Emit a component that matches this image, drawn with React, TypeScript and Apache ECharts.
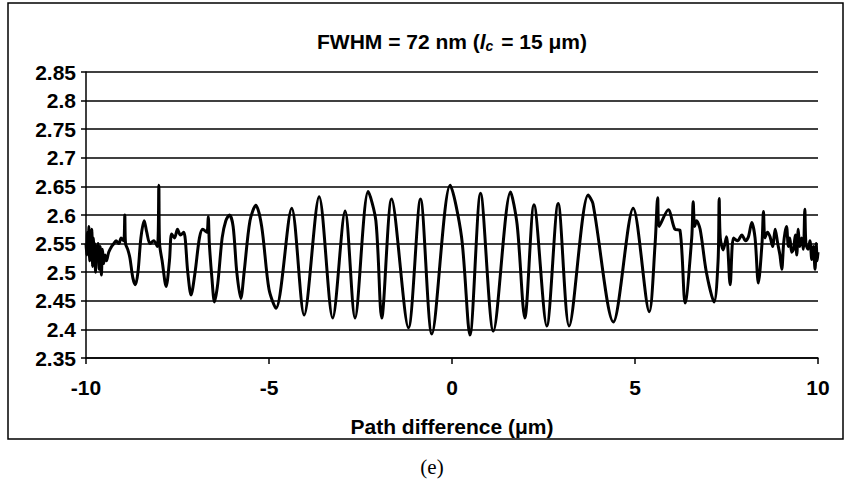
import React, { useEffect, useRef } from "react";
import * as echarts from "echarts";

const xTicks = [-10, -5, 0, 5, 10];
const yMin = 2.35;
const yMax = 2.85;
const yStep = 0.05;
const xAxisTitle = "Path difference (μm)";
const caption = "(e)";

// [path difference (µm), signal]
const leftNoise: [number, number][] = [
  [-10.0, 2.55], [-9.98, 2.53], [-9.96, 2.57], [-9.94, 2.54], [-9.92, 2.58], [-9.9, 2.52],
  [-9.88, 2.56], [-9.86, 2.53], [-9.84, 2.575], [-9.82, 2.51], [-9.8, 2.56], [-9.78, 2.52],
  [-9.76, 2.55], [-9.74, 2.5], [-9.72, 2.545], [-9.7, 2.52], [-9.67, 2.55], [-9.64, 2.505],
  [-9.61, 2.545], [-9.58, 2.495], [-9.55, 2.54], [-9.52, 2.515], [-9.48, 2.53], [-9.44, 2.52],
  [-9.38, 2.535], [-9.3, 2.545], [-9.24, 2.55], [-9.18, 2.555], [-9.1, 2.55], [-9.04, 2.56],
  [-8.97, 2.555], [-8.94, 2.6], [-8.92, 2.55], [-8.86, 2.54], [-8.8, 2.525], [-8.72, 2.49],
  [-8.65, 2.478], [-8.58, 2.5], [-8.5, 2.56], [-8.41, 2.59], [-8.34, 2.57], [-8.25, 2.55],
  [-8.15, 2.555], [-8.05, 2.545], [-8.01, 2.652], [-7.99, 2.55], [-7.92, 2.52], [-7.81, 2.475],
  [-7.72, 2.52], [-7.66, 2.567], [-7.58, 2.56], [-7.5, 2.575], [-7.42, 2.565], [-7.33, 2.57],
  [-7.22, 2.5], [-7.13, 2.46], [-7.02, 2.5], [-6.9, 2.56], [-6.81, 2.575], [-6.7, 2.57],
  [-6.66, 2.597], [-6.63, 2.55], [-6.56, 2.49], [-6.49, 2.448], [-6.4, 2.48], [-6.28, 2.56],
  [-6.18, 2.59], [-6.08, 2.6], [-5.98, 2.58], [-5.88, 2.5], [-5.77, 2.454], [-5.68, 2.5],
  [-5.52, 2.59], [-5.36, 2.617], [-5.2, 2.58], [-5.0, 2.47],
];

const centralFringes: [number, number][] = [
  [-4.81, 2.437], [-4.38, 2.612], [-4.04, 2.425], [-3.63, 2.632], [-3.26, 2.42], [-2.92, 2.607],
  [-2.65, 2.42], [-2.29, 2.641], [-2.08, 2.59], [-1.92, 2.42], [-1.65, 2.628], [-1.19, 2.403],
  [-0.86, 2.628], [-0.55, 2.392], [-0.05, 2.652], [0.26, 2.562], [0.49, 2.39], [0.78, 2.638],
  [1.13, 2.397], [1.6, 2.64], [1.78, 2.583], [1.99, 2.42], [2.24, 2.618], [2.59, 2.406],
  [2.9, 2.62], [3.2, 2.406],
];

const rightNoise: [number, number][] = [
  [3.72, 2.635], [3.85, 2.62], [4.41, 2.413], [4.95, 2.612], [5.39, 2.431], [5.55, 2.55],
  [5.62, 2.63], [5.66, 2.58], [5.91, 2.609], [6.09, 2.575], [6.23, 2.573], [6.37, 2.446],
  [6.55, 2.56], [6.59, 2.623], [6.63, 2.58], [6.68, 2.59], [6.78, 2.575], [6.95, 2.5],
  [7.16, 2.448], [7.27, 2.52], [7.3, 2.629], [7.33, 2.56], [7.41, 2.539], [7.5, 2.562],
  [7.6, 2.478], [7.69, 2.56], [7.8, 2.555], [7.92, 2.565], [8.02, 2.555], [8.1, 2.562],
  [8.19, 2.587], [8.28, 2.56], [8.37, 2.481], [8.47, 2.55], [8.51, 2.606], [8.55, 2.56],
  [8.62, 2.57], [8.69, 2.562], [8.76, 2.545], [8.83, 2.575], [8.9, 2.55], [8.96, 2.53],
  [9.01, 2.505], [9.06, 2.55], [9.1, 2.57], [9.14, 2.58], [9.19, 2.545], [9.23, 2.56],
  [9.28, 2.535], [9.33, 2.54], [9.38, 2.565], [9.42, 2.53], [9.46, 2.575], [9.5, 2.545],
  [9.55, 2.56], [9.6, 2.54], [9.64, 2.61], [9.67, 2.55], [9.73, 2.54], [9.78, 2.555],
  [9.83, 2.522], [9.87, 2.545], [9.92, 2.505], [9.95, 2.55], [9.98, 2.52], [10.0, 2.535],
];

const FONT = "'Liberation Sans', Arial, sans-serif";
const FS = 21;

export default function App() {
  const ref = useRef<HTMLDivElement>(null);
  useEffect(() => {
    const chart = echarts.init(ref.current!, null, { renderer: "svg" });
    const signal = [...leftNoise, ...centralFringes, ...rightNoise];
    chart.setOption({
      animation: false,
      backgroundColor: "#fff",
      grid: { left: 86, right: 26, top: 72, bottom: 122 },
      xAxis: {
        type: "value",
        min: xTicks[0],
        max: xTicks[xTicks.length - 1],
        interval: 5,
        name: xAxisTitle,
        nameLocation: "middle",
        nameGap: 58,
        nameTextStyle: { fontFamily: FONT, fontSize: FS, fontWeight: "bold", color: "#000" },
        axisLine: { show: true, onZero: false, lineStyle: { color: "#000", width: 1.5 } },
        axisTick: { show: true, inside: false, length: 6, lineStyle: { color: "#000", width: 1.5 } },
        axisLabel: { margin: 19, fontFamily: FONT, fontSize: FS, fontWeight: "bold", color: "#000" },
        splitLine: { show: false },
      },
      yAxis: {
        type: "value",
        min: yMin,
        max: yMax,
        interval: yStep,
        axisLine: { show: true, onZero: false, lineStyle: { color: "#000", width: 1.5 } },
        axisTick: { show: true, inside: false, length: 5, lineStyle: { color: "#000", width: 1.5 } },
        axisLabel: {
          margin: 10,
          fontFamily: FONT,
          fontSize: FS,
          fontWeight: "bold",
          color: "#000",
          formatter: (v: number) => String(Number(v.toFixed(2))),
        },
        splitLine: { show: true, lineStyle: { color: "#000", width: 1.5 } },
      },
      series: [
        {
          type: "line",
          data: signal,
          showSymbol: false,
          smooth: 0.3,
          lineStyle: { color: "#000", width: 3 },
          z: 3,
        },
      ],
      graphic: [
        {
          type: "rect",
          shape: { x: 8, y: 3, width: 835, height: 436 },
          style: { fill: "none", stroke: "#000", lineWidth: 1.5 },
          z: -1,
        },
        {
          type: "text",
          x: 452,
          y: 41,
          style: {
            text: "{a|FWHM = 72 nm (}{i|l}{s|c}{a| = 15 μm)}",
            align: "center",
            verticalAlign: "middle",
            rich: {
              a: { fontFamily: FONT, fontSize: FS, fontWeight: "bold", fill: "#000" },
              i: { fontFamily: FONT, fontSize: FS, fontWeight: "bold", fontStyle: "italic", fill: "#000" },
              s: { fontFamily: FONT, fontSize: 14, fontWeight: "bold", fontStyle: "italic", fill: "#000", verticalAlign: "bottom", padding: [10, 2, 0, 0] },
            },
          },
        },
        {
          type: "text",
          x: 432,
          y: 467,
          style: {
            text: caption,
            align: "center",
            verticalAlign: "middle",
            font: "21px 'Liberation Serif', 'Times New Roman', serif",
            fill: "#000",
          },
        },
      ],
    });
    return () => chart.dispose();
  }, []);
  return (
    <div
      ref={ref}
      style={{ position: "fixed", left: 0, top: 0, width: 844, height: 480, background: "#fff" }}
    />
  );
}
